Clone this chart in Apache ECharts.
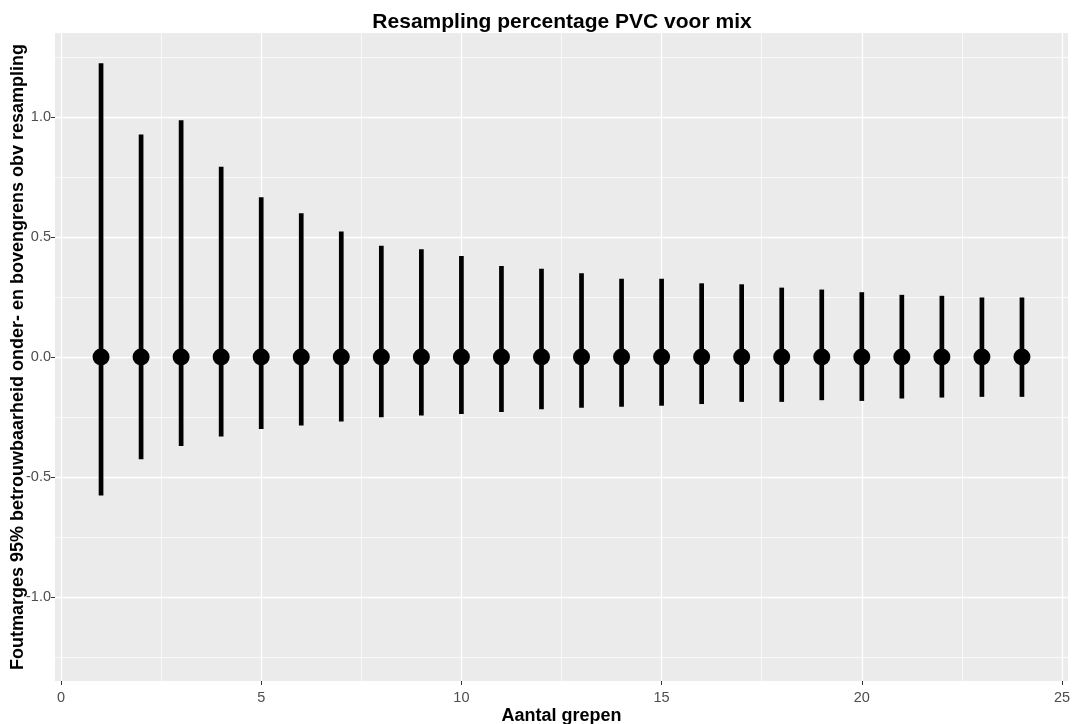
<!DOCTYPE html>
<html>
<head>
<meta charset="utf-8">
<script src="https://cdn.jsdelivr.net/npm/echarts@6/dist/echarts.min.js"></script>
<style>
  html, body { margin: 0; padding: 0; background: #ffffff; }
  #chart { width: 1074px; height: 724px; }
</style>
</head>
<body>
<div id="chart"></div>
<script>
// Aantal grepen (number of grabs) per resampling run
const grepen = [1, 2, 3, 4, 5, 6, 7, 8, 9, 10, 11, 12, 13, 14, 15, 16, 17, 18, 19, 20, 21, 22, 23, 24];
// Centre of each interval
const midden = [0, 0, 0, 0, 0, 0, 0, 0, 0, 0, 0, 0, 0, 0, 0, 0, 0, 0, 0, 0, 0, 0, 0, 0];
// Upper bound of the 95% interval
const bovengrens = [1.224, 0.927, 0.986, 0.793, 0.666, 0.599, 0.523, 0.464, 0.449, 0.421, 0.379, 0.368,
                    0.349, 0.326, 0.326, 0.307, 0.303, 0.289, 0.281, 0.270, 0.259, 0.255, 0.248, 0.248];
// Lower bound of the 95% interval
const ondergrens = [-0.577, -0.426, -0.371, -0.331, -0.300, -0.285, -0.269, -0.251, -0.244, -0.237, -0.229, -0.218,
                    -0.211, -0.207, -0.203, -0.196, -0.187, -0.187, -0.180, -0.183, -0.173, -0.169, -0.166, -0.166];

// Axis breaks
const xBreaks = [0, 5, 10, 15, 20, 25];
const yBreaks = [-1, -0.5, 0, 0.5, 1];
const xMinorBreaks = [2.5, 7.5, 12.5, 17.5, 22.5];
const yMinorBreaks = [-1.25, -0.75, -0.25, 0.25, 0.75, 1.25];

const titel = 'Resampling percentage PVC voor mix';
const xTitel = 'Aantal grepen';
const yTitel = 'Foutmarges 95% betrouwbaarheid onder- en bovengrens obv resampling';

const FONT = '"Liberation Sans", Arial, sans-serif';

const intervalData = grepen.map((g, i) => [g, ondergrens[i], bovengrens[i]]);
const pointData = grepen.map((g, i) => [g, midden[i]]);

const chart = echarts.init(document.getElementById('chart'), null, { renderer: 'canvas' });

chart.setOption({
  animation: false,
  backgroundColor: '#ffffff',
  graphic: [{
    type: 'text',
    x: 562,
    y: 22,
    style: {
      text: titel,
      font: 'bold 21px ' + FONT,
      fill: '#000000',
      textAlign: 'center',
      textVerticalAlign: 'middle'
    }
  }],
  grid: {
    left: 55, right: 6, top: 33, bottom: 43,
    outerBoundsMode: 'none',
    containLabel: false,
    show: true,
    backgroundColor: '#EBEBEB',
    borderWidth: 0
  },
  xAxis: {
    type: 'value',
    position: 'bottom',
    min: -0.15,
    max: 25.15,
    name: xTitel,
    nameLocation: 'middle',
    nameGap: 26,
    nameMoveOverlap: false,
    nameTextStyle: { fontFamily: FONT, fontWeight: 'bold', fontSize: 18, color: '#000000' },
    axisLine: { show: false, onZero: false },
    axisTick: { show: true, customValues: xBreaks, length: 4, lineStyle: { color: '#333333', width: 1 } },
    axisLabel: {
      customValues: xBreaks, margin: 9,
      fontFamily: FONT, fontSize: 14.5, color: '#4D4D4D',
      formatter: v => String(v)
    },
    splitLine: { show: true, lineStyle: { color: '#ffffff', width: 1.3 } }
  },
  yAxis: {
    type: 'value',
    position: 'left',
    min: -1.35,
    max: 1.35,
    name: yTitel,
    nameLocation: 'middle',
    nameGap: 28,
    nameMoveOverlap: false,
    nameRotate: 90,
    nameTextStyle: { fontFamily: FONT, fontWeight: 'bold', fontSize: 18, color: '#000000' },
    axisLine: { show: false, onZero: false },
    axisTick: { show: true, customValues: yBreaks, length: 4, lineStyle: { color: '#333333', width: 1 } },
    axisLabel: {
      customValues: yBreaks, margin: 4,
      fontFamily: FONT, fontSize: 14.5, color: '#4D4D4D',
      formatter: v => v.toFixed(1)
    },
    splitLine: { show: true, lineStyle: { color: '#ffffff', width: 1.3 } }
  },
  series: [
    {
      // vertical interval bars, with the minor grid lines underneath
      type: 'custom',
      z: 3,
      silent: true,
      data: intervalData,
      renderItem: function (params, api) {
        const x = api.value(0);
        const p1 = api.coord([x, api.value(1)]);
        const p2 = api.coord([x, api.value(2)]);
        return {
          type: 'line',
          shape: { x1: p1[0], y1: p1[1], x2: p2[0], y2: p2[1] },
          style: { stroke: '#000000', lineWidth: 4.7, lineCap: 'butt' }
        };
      },
      markLine: {
        z: 1,
        silent: true,
        symbol: ['none', 'none'],
        label: { show: false },
        emphasis: { disabled: true },
        lineStyle: { color: '#ffffff', width: 0.7, type: 'solid' },
        data: xMinorBreaks.map(v => ({ xAxis: v })).concat(yMinorBreaks.map(v => ({ yAxis: v })))
      }
    },
    {
      type: 'scatter',
      z: 4,
      silent: true,
      symbol: 'circle',
      symbolSize: 17,
      itemStyle: { color: '#000000', opacity: 1 },
      data: pointData
    }
  ]
});
</script>
</body>
</html>
